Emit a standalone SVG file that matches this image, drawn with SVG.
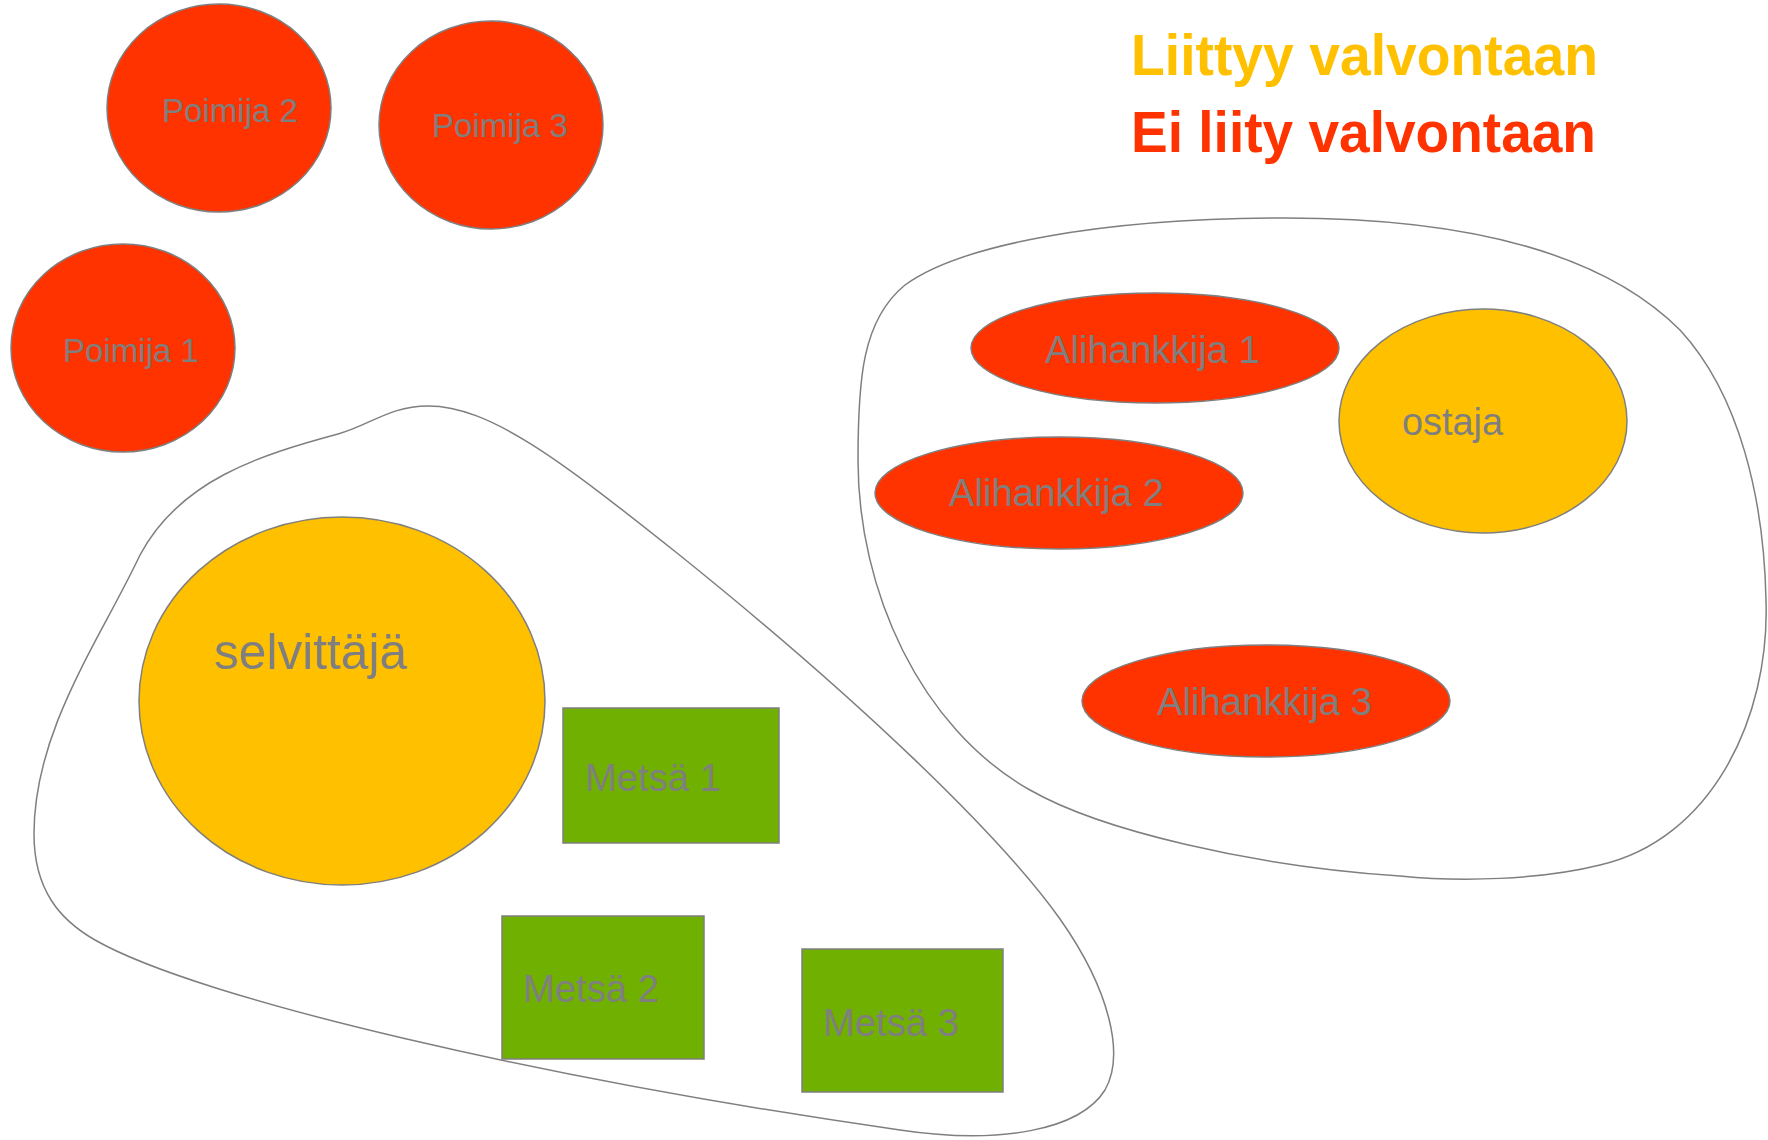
<svg xmlns="http://www.w3.org/2000/svg" width="1768" height="1140" viewBox="0 0 1768 1140">
<style>
.blob{fill:none;stroke:#7f7f7f;stroke-width:1.5}
.red{fill:#ff3300;stroke:#7f7f7f;stroke-width:1.5}
.yel{fill:#ffc000;stroke:#7f7f7f;stroke-width:1.5}
.grn{fill:#70b000;stroke:#7f7f7f;stroke-width:1.5}
.lbl{font-family:"Liberation Sans",Arial,sans-serif;fill:#7f7f7f}
.leg{font-family:"Liberation Sans",Arial,sans-serif;font-weight:bold;font-size:58px}
</style>
<rect width="1768" height="1140" fill="#ffffff"/>
<g id="connectors"></g>
<g id="group-right">
<path class="blob" d="M 905,285 C 960,245 1100,218 1285,218 C 1460,218 1600,250 1680,330 C 1740,395 1764,500 1766,600 C 1770,720 1710,840 1600,865 C 1540,880 1460,882 1400,876 C 1250,866 1100,830 1030,790 C 920,728 858,590 858,460 C 858,380 862,320 905,285 Z"/>
</g>
<g id="group-left">
<path class="blob" d="M 428,406 C 390,406 370,425 338,434 C 260,455 180,480 140,555 C 100,640 34,730 34,834 C 34,890 60,920 95,940 C 200,1000 550,1080 900,1130 C 1000,1145 1080,1130 1105,1090 C 1125,1055 1110,990 1060,919 C 1000,835 860,700 677,553 C 560,460 490,406 428,406 Z"/>
</g>
<g id="poimija2"><ellipse class="red" cx="219" cy="108" rx="112" ry="104"/><text class="lbl" x="162" y="122" font-size="33" textLength="136" lengthAdjust="spacingAndGlyphs">Poimija 2</text></g>
<g id="poimija3"><ellipse class="red" cx="491" cy="125" rx="112" ry="104"/><text class="lbl" x="432" y="137" font-size="33" textLength="136" lengthAdjust="spacingAndGlyphs">Poimija 3</text></g>
<g id="poimija1"><ellipse class="red" cx="123" cy="348" rx="112" ry="104"/><text class="lbl" x="63" y="362" font-size="33" textLength="136" lengthAdjust="spacingAndGlyphs">Poimija 1</text></g>
<g id="alihankkija1"><ellipse class="red" cx="1155" cy="348" rx="184" ry="55"/><text class="lbl" x="1045" y="363" font-size="38" textLength="215" lengthAdjust="spacingAndGlyphs">Alihankkija 1</text></g>
<g id="alihankkija2"><ellipse class="red" cx="1059" cy="493" rx="184" ry="56"/><text class="lbl" x="949" y="506" font-size="38" textLength="215" lengthAdjust="spacingAndGlyphs">Alihankkija 2</text></g>
<g id="alihankkija3"><ellipse class="red" cx="1266" cy="701" rx="184" ry="56"/><text class="lbl" x="1157" y="715" font-size="38" textLength="215" lengthAdjust="spacingAndGlyphs">Alihankkija 3</text></g>
<g id="ostaja"><ellipse class="yel" cx="1483" cy="421" rx="144" ry="112"/><text class="lbl" x="1402" y="435" font-size="38" textLength="101" lengthAdjust="spacingAndGlyphs">ostaja</text></g>
<g id="selvittaja"><ellipse class="yel" cx="342" cy="701" rx="203" ry="184"/><text class="lbl" x="214" y="669" font-size="50" textLength="193" lengthAdjust="spacingAndGlyphs">selvittäjä</text></g>
<g id="metsa1"><rect class="grn" x="563" y="708" width="216" height="135"/><text class="lbl" x="585" y="791" font-size="38.7" textLength="136" lengthAdjust="spacingAndGlyphs">Metsä 1</text></g>
<g id="metsa2"><rect class="grn" x="502" y="916" width="202" height="143"/><text class="lbl" x="523" y="1002" font-size="38.7" textLength="136" lengthAdjust="spacingAndGlyphs">Metsä 2</text></g>
<g id="metsa3"><rect class="grn" x="802" y="949" width="201" height="143"/><text class="lbl" x="823" y="1036" font-size="38.7" textLength="136" lengthAdjust="spacingAndGlyphs">Metsä 3</text></g>
<g id="legend">
<text class="leg" x="1131" y="75" fill="#ffc000" textLength="467" lengthAdjust="spacingAndGlyphs">Liittyy valvontaan</text>
<text class="leg" x="1131" y="152" fill="#ff3300" textLength="465" lengthAdjust="spacingAndGlyphs">Ei liity valvontaan</text>
</g>
</svg>
